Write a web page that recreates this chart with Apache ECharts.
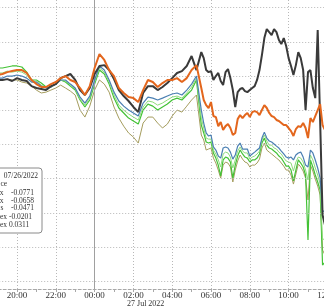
<!DOCTYPE html>
<html><head><meta charset="utf-8">
<script src="https://cdn.jsdelivr.net/npm/echarts@6/dist/echarts.min.js"></script>
<style>html,body{margin:0;padding:0;background:#fff;overflow:hidden;width:324px;height:308px}#c{position:absolute;left:-22px;top:0;width:350px;height:308px}</style>
</head><body><div id="c"></div>
<script>
// hours since 20:00 on 26 Jul 2022
const hours = [-1,-0.75,-0.5,-0.25,0,0.25,0.5,0.75,1,1.25,1.5,1.75,2,2.25,2.5,2.75,3,3.25,3.5,3.75,4,4.25,4.5,4.75,5,5.25,5.5,5.75,6,6.25,6.5,6.75,7,7.25,7.5,7.75,8,8.25,8.5,8.75,9,9.25,9.5,9.75,10,10.25,10.5,10.75,11,11.25,11.5,11.75,12,12.25,12.5,12.75,13,13.25,13.5,13.75,14,14.25,14.5,14.625,14.75,14.875,15,15.125,15.25,15.375,15.5,15.625,15.75,15.875];
// extra samples in the busy morning session
const hoursFine = [9.625,9.875,10.125,10.375,10.625,10.875,11.125,11.375,11.625,11.875,12.125,12.375,12.625,12.875,13.125,13.375,13.625,13.875,14.125,14.375];

const blackS = [-2.3,-2.3,-1.8,-2.9,-1.2,-2.3,-2.9,-5.9,-7.0,-7.6, -8.2,-5.9,-4.7,-1.2,0,1.2,-2.3,-8.2,-11.1,-7.0, 1.2,5.9,6.4,3.5,-1.8,-8.2,-11.7,-14.6,-18.1,-21.1, -9.9,-5.9,-5.9,-8.2,-6.4,-4.1,-1.2,1.8,2.9,5.9, 11.7,3.5,14.0,3.5,2.9,0,-2.9,2.3,-1.2,-18.1, -7.6,-8.8,-8.2,-5.9,3.5,22.2,25.7,27.5,21.1,22.2, 10.5,0.6,14.0,10.5,3.5,-19.9,2.3,3.5,-7.0,-12.9, 26.9,-25.7,-81.3,-87.2];
const blackFine = [10.5,2.3,-2.3,1.8,-5.3,4.1,-8.2,-9.4,-7.0,-9.4,-7.0,-2.3,12.3,27.5,24.0,25.7,18.7,17.6,5.9,6.4];

const orangeS = [0.6,1.2,2.3,2.9,3.5,3.5,1.8,-2.3,-4.7,-6.4, -6.4,-4.7,-3.5,-1.2,0,-2.3,-3.5,-7.0,-11.1,-5.9, 4.7,12.9,9.4,3.5,0,-7.0,-9.9,-12.3,-12.9,-15.2, -8.2,-2.3,-3.5,-6.4,-4.1,-2.3,-2.3,-1.2,-3.5,-1.2, 3.5,6.4,-7.0,-17.0,-15.2,-24.0,-26.9,-29.3,-30.4,-33.3, -22.8,-22.8,-24.0,-20.5,-22.8,-17.0,-21.6,-24.0,-26.3,-28.7, -30.4,-35.1,-29.3,-29.8,-27.5,-30.4,-36.3,-24.6,-26.9,-23.4, -19.9,-16.4,-28.7,-31.6];
const orangeFine = [-14.0,-18.7,-23.4,-29.3,-31.6,-28.1,-34.5,-25.2,-24.6,-21.6,-21.1,-21.1,-19.9,-18.7,-23.4,-25.7,-27.5,-28.7,-32.2,-31.0];

const blueS = [-1.2,-1.2,0,0,0.6,0,-1.2,-3.5,-3.5,-5.9, -7.0,-6.4,-4.7,-2.3,-2.3,-4.7,-7.0,-12.3,-15.8,-11.7, -2.3,5.9,3.5,-2.3,-9.4,-14.6,-17.6,-19.9,-21.6,-23.4, -15.8,-12.3,-12.9,-14.0,-12.9,-11.7,-10.5,-9.9,-11.1,-8.2, -4.7,0,-19.9,-33.3,-34.5,-43.3,-48.0,-41.5,-44.5,-46.2, -39.2,-42.7,-46.8,-44.5,-42.1,-32.8,-38.0,-39.8,-42.1,-45.6, -48.0,-49.1,-45.0,-44.5,-47.4,-52.1,-53.2,-43.3,-45.0,-49.1, -53.8,-59.7,-79.6,-78.4];
const blueFine = [-27.5,-35.1,-41.5,-46.8,-42.1,-42.1,-48.6,-41.0,-42.7,-42.7,-45.6,-43.3,-36.3,-36.3,-38.6,-41.0,-43.9,-47.4,-47.4,-46.2];

const lightGreenS = [1.8,1.8,2.9,2.3,2.9,2.3,0.6,-2.9,-2.9,-5.3, -7.0,-6.4,-4.7,-2.3,-2.9,-5.3,-7.6,-13.5,-17.0,-12.9, -3.5,4.7,2.3,-3.5,-11.1,-17.0,-19.9,-22.2,-24.0,-25.7, -18.1,-14.6,-15.2,-17.0,-15.8,-14.0,-12.3,-11.7,-12.9,-9.9, -6.4,-1.2,-24.6,-36.3,-36.9,-45.6,-53.2,-44.5,-47.4,-49.1, -41.5,-45.0,-48.6,-46.8,-43.9,-34.5,-40.4,-42.1,-44.5,-47.9, -50.3,-55.6,-47.4,-48.0,-50.3,-55.0,-60.8,-46.2,-49.1,-53.8, -57.9,-63.2,-95.9,-94.8];
const lightGreenFine = [-30.4,-36.9,-43.3,-49.1,-45.6,-45.0,-53.8,-43.9,-43.9,-45.0,-47.4,-45.6,-37.4,-38.0,-40.4,-42.7,-45.6,-49.7,-50.9,-50.3];

const greenS = [4.7,4.7,5.3,5.9,5.9,5.3,2.3,-2.3,-2.3,-4.1, -6.4,-6.4,-4.7,-2.3,-3.5,-5.9,-8.2,-14.0,-18.1,-14.0, -4.7,3.5,1.2,-4.7,-12.9,-18.7,-21.6,-24.6,-26.3,-28.1, -19.9,-16.4,-17.6,-19.9,-18.1,-16.4,-14.0,-12.9,-14.0,-11.1, -8.2,-2.3,-28.7,-38.6,-38.6,-48.0,-58.5,-47.4,-50.3,-52.1, -43.3,-47.4,-50.3,-49.1,-45.6,-36.3,-42.1,-43.9,-46.8,-50.3, -52.7,-61.4,-49.1,-50.9,-53.2,-57.9,-95.9,-49.1,-53.2,-57.9, -62.0,-66.7,-110.6,-108.8];
const greenFine = [-33.3,-39.2,-45.0,-52.1,-49.1,-48.0,-59.7,-46.8,-45.6,-48.0,-49.1,-48.0,-39.2,-40.4,-42.7,-45.0,-48.0,-52.7,-55.0,-55.0];

const khakiS = [-2.3,-2.3,-1.8,-2.3,-2.3,-3.5,-4.1,-5.9,-8.2,-9.9, -9.4,-8.2,-7.0,-5.3,-7.0,-8.8,-11.1,-19.9,-24.0,-17.6, -8.2,-2.3,-4.7,-9.4,-18.1,-24.6,-29.3,-33.3,-35.7,-39.2, -27.5,-24.0,-24.0,-27.5,-30.4,-28.1,-23.4,-19.9,-21.1,-17.6, -14.0,-11.1,-34.5,-43.3,-42.1,-50.9,-59.7,-50.3,-53.2,-55.0, -46.2,-50.3,-53.2,-52.1,-48.6,-39.2,-44.5,-46.8,-49.1,-52.7, -55.0,-63.2,-51.5,-53.2,-55.6,-59.7,-72.5,-52.1,-55.6,-60.3, -64.4,-69.6,-101.8,-104.7];
const khakiFine = [-37.4,-42.7,-48.0,-55.0,-52.1,-50.9,-62.0,-49.7,-48.6,-50.9,-52.1,-50.9,-42.1,-43.3,-45.6,-48.0,-50.9,-55.0,-57.9,-57.3];

const gridValues = [40,20,0,-20,-40,-60,-80,-100,-120];
const dayBreak = 4; // 00:00
const dateLabel = '27 Jul 2022';
const legendDate = '07/26/2022';
const legendHeader = 'ce';
const legendRows = [['x','-0.0771'],['x','-0.0658'],['s','-0.0471']];
const legendRowsFull = ['ex -0.0201','ex 0.0311'];

const OX = 22; // container shift (page x = chart x - OX)
const FONT = '"Liberation Serif", "DejaVu Serif", serif';
const chart = echarts.init(document.getElementById('c'), null, {renderer:'canvas'});

function mk(arr, fine){
  const pts = hours.map((h,i)=>[h,arr[i]]).concat(hoursFine.map((h,i)=>[h,fine[i]]));
  return pts.sort((a,b)=>a[0]-b[0]);
}
function line(name, arr, fine, color, w, z){
  return {name, type:'line', data:mk(arr, fine), symbol:'none', showSymbol:false,
    lineStyle:{color, width:w}, itemStyle:{color}, z, animation:false, silent:true};
}

const series = [
  line('khaki', khakiS, khakiFine, '#a59d5e', 1, 2),
  line('green', greenS, greenFine, '#43c236', 1.2, 3),
  line('lightgreen', lightGreenS, lightGreenFine, '#8fdc7c', 1, 4),
  line('blue', blueS, blueFine, '#4a7fb2', 1.2, 5),
  line('black', blackS, blackFine, '#3a3a3a', 2, 6),
  line('orange', orangeS, orangeFine, '#e3661d', 2, 7)
];
series[0].markLine = {
  silent:true, symbol:'none', animation:false, label:{show:false},
  lineStyle:{type:[1,2], color:'#b8b8b8', width:1},
  data: gridValues.map(v=>({yAxis:v}))
};
series[1].markLine = {
  silent:true, symbol:'none', animation:false, label:{show:false},
  lineStyle:{type:'solid', color:'#a0a0a0', width:1},
  data:[{xAxis:dayBreak}]
};

const T = (text, x, y, align, size) => ({type:'text', x:x+OX, y,
  style:{text, font:(size||7.5)+'px '+FONT, fill:'#333', textAlign:align, textVerticalAlign:'middle', align, verticalAlign:'middle'}, z:101});

const legendEls = [
  {type:'rect', shape:{x:-6+OX, y:168, width:48, height:65, r:3}, style:{fill:'#fff', stroke:'#8a8a8a', lineWidth:1}, z:100},
  T(legendDate, 38, 176, 'right'),
  T(legendHeader, 0.5, 184, 'left')
];
legendRows.forEach((r,i)=>{
  const y = 192.7 + i*7.9;
  legendEls.push(T(r[0], 3.5, y, 'right'));
  legendEls.push(T(r[1], 11, y, 'left'));
});
legendRowsFull.forEach((t,i)=>{
  legendEls.push(T(t, 0, 216.7 + i*8.2, 'left'));
});
legendEls.push(T(dateLabel, 145.7, 304, 'center', 8));

chart.setOption({
  animation:false,
  backgroundColor:'#fff',
  grid:{left:0.2, right:0.6, top:0, bottom:19, containLabel:false, outerBoundsMode:'none'},
  xAxis:{
    type:'value', min:-2, max:16, interval:2,
    axisLine:{show:true, onZero:false, lineStyle:{color:'#a8a8a8', type:[3,2], width:1}},
    axisTick:{show:true, length:3, lineStyle:{color:'#a8a8a8'}},
    minorTick:{show:true, splitNumber:2, length:3, lineStyle:{color:'#a8a8a8'}},
    splitLine:{show:true, lineStyle:{type:[1,2], color:'#b8b8b8', width:1}},
    axisLabel:{margin:2, fontSize:9, fontFamily:FONT, color:'#333',
      formatter:v=>{const h=((20+v)%24+24)%24; return (h<10?'0':'')+h+':00';}}
  },
  yAxis:{type:'value', min:-124.6, max:44.5, show:false, splitLine:{show:false}},
  series,
  graphic:legendEls
});
</script></body></html>
